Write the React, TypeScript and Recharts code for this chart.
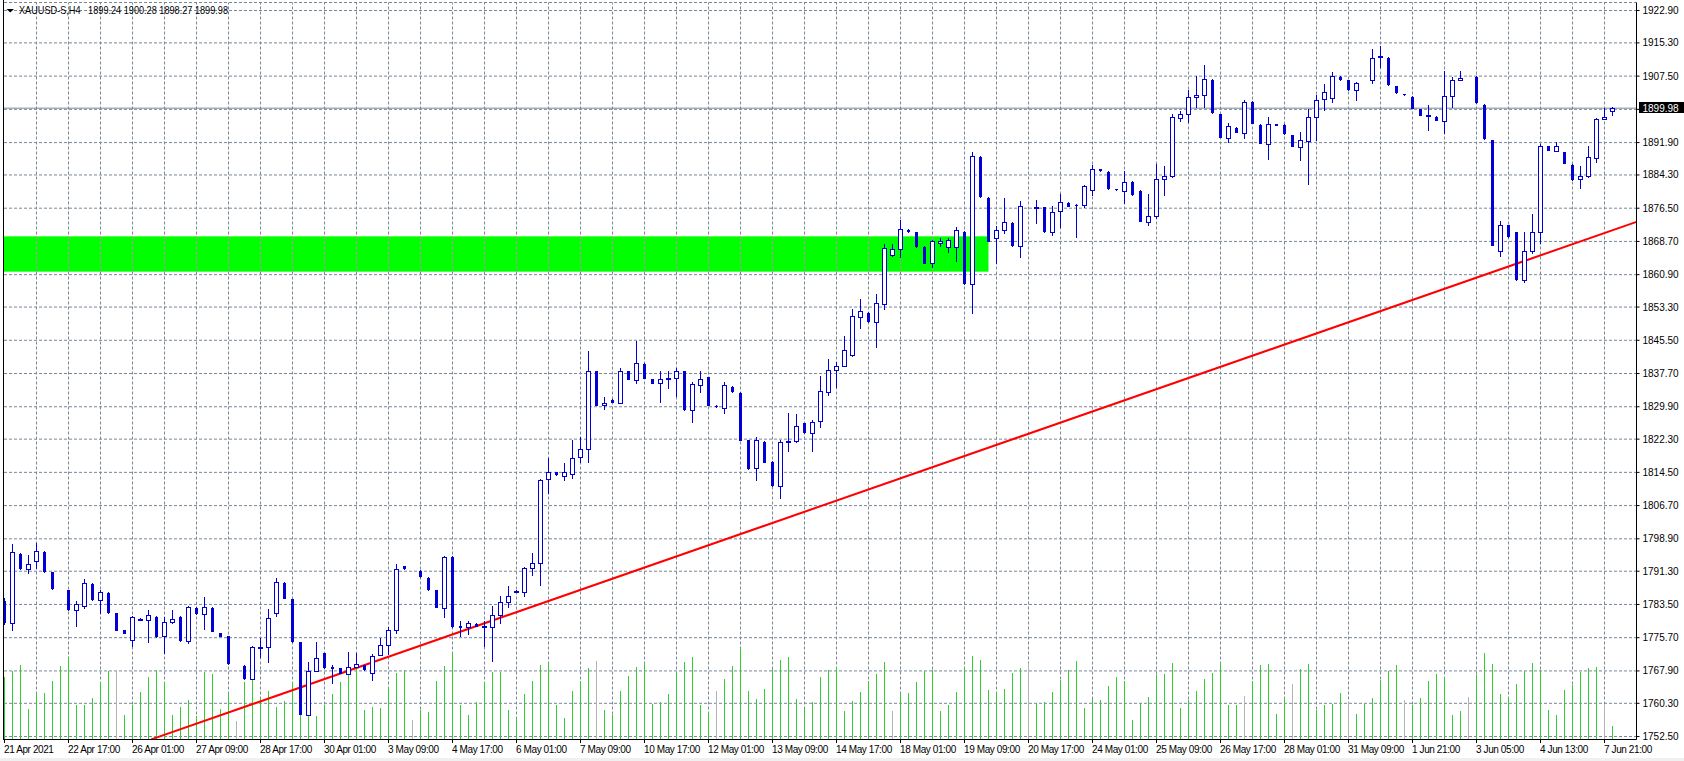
import React from 'react';
import { ComposedChart, Bar, XAxis, YAxis, CartesianGrid, ReferenceLine, ReferenceArea } from 'recharts';

// ---------------- data ----------------
const symbolName = 'XAUUSD-S,H4';

const timeLabels = [
  '21 Apr 2021', '22 Apr 17:00', '26 Apr 01:00', '27 Apr 09:00', '28 Apr 17:00', '30 Apr 01:00',
  '3 May 09:00', '4 May 17:00', '6 May 01:00', '7 May 09:00', '10 May 17:00', '12 May 01:00',
  '13 May 09:00', '14 May 17:00', '18 May 01:00', '19 May 09:00', '20 May 17:00', '24 May 01:00',
  '25 May 09:00', '26 May 17:00', '28 May 01:00', '31 May 09:00', '1 Jun 21:00', '3 Jun 05:00',
  '4 Jun 13:00', '7 Jun 21:00',
];

const priceTicks = [
  1752.5, 1760.3, 1767.9, 1775.7, 1783.5, 1791.3, 1798.9, 1806.7, 1814.5, 1822.3, 1829.9, 1837.7,
  1845.5, 1853.3, 1860.9, 1868.7, 1876.5, 1884.3, 1891.9, 1899.7, 1907.5, 1915.3, 1922.9,
];

const opens = [
  1784.4, 1779.2, 1795.4, 1791.8, 1793.7, 1795.8, 1791.0, 1787.1, 1786.8, 1782.2,
  1783.1, 1788.4, 1784.6, 1786.3, 1781.4, 1777.4, 1775.2, 1780.1, 1779.9, 1780.6,
  1776.0, 1779.4, 1780.6, 1775.0, 1782.7, 1781.3, 1782.7, 1776.8, 1776.1, 1769.5,
  1769.1, 1766.0, 1773.4, 1773.5, 1781.5, 1788.6, 1784.7, 1774.6, 1757.5, 1767.9,
  1772.1, 1768.8, 1768.5, 1767.2, 1768.8, 1769.3, 1767.4, 1771.7, 1774.0, 1777.5,
  1792.5, 1792.2, 1791.4, 1789.8, 1786.8, 1782.6, 1794.7, 1778.4, 1778.1, 1779.0,
  1778.2, 1778.1, 1781.0, 1784.0, 1786.6, 1786.4, 1792.1, 1793.2, 1812.9, 1814.5,
  1813.6, 1814.1, 1818.0, 1820.0, 1838.2, 1830.3, 1831.6, 1830.7, 1838.2, 1836.1,
  1840.0, 1836.3, 1835.4, 1836.5, 1836.7, 1838.2, 1829.2, 1835.0, 1836.8, 1830.1,
  1829.6, 1834.6, 1833.2, 1822.0, 1815.5, 1821.7, 1817.0, 1811.2, 1821.6, 1821.8,
  1826.1, 1823.8, 1826.6, 1833.4, 1838.5, 1839.5, 1842.0, 1851.0, 1852.0, 1849.7,
  1853.9, 1865.5, 1866.9, 1871.5, 1870.8, 1867.5, 1863.7, 1868.4, 1867.3, 1867.3,
  1871.0, 1858.7, 1888.6, 1879.0, 1869.5, 1871.4, 1873.1, 1867.7, 1876.8, 1876.6,
  1876.7, 1871.0, 1875.9, 1877.8, 1877.3, 1877.2, 1880.8, 1885.7, 1885.1, 1881.0,
  1880.6, 1882.7, 1880.6, 1873.3, 1874.7, 1883.4, 1884.1, 1897.7, 1898.6, 1902.6,
  1903.1, 1906.7, 1898.6, 1893.0, 1895.4, 1894.2, 1901.5, 1896.1, 1891.6, 1896.2,
  1896.1, 1893.6, 1890.8, 1892.3, 1897.9, 1902.1, 1902.4, 1907.4, 1906.5, 1904.3,
  1906.2, 1906.6, 1911.9, 1911.8, 1905.1, 1903.3, 1902.7, 1899.7, 1898.2, 1898.0,
  1897.0, 1902.9, 1906.6, 1907.2, 1907.4, 1900.8, 1892.5, 1866.5, 1872.5, 1870.8,
  1859.7, 1866.5, 1870.9, 1891.0, 1890.0, 1889.7, 1886.7, 1883.4, 1884.1, 1888.3,
  1897.5, 1899.24,
];

const highs = [
  1785.0, 1797.6, 1795.6, 1795.2, 1797.9, 1796.0, 1791.2, 1787.1, 1786.9, 1784.4,
  1789.5, 1788.5, 1787.0, 1786.4, 1781.5, 1777.5, 1780.9, 1780.3, 1782.1, 1780.7,
  1780.6, 1782.3, 1780.7, 1783.2, 1782.8, 1785.3, 1782.8, 1776.9, 1776.2, 1769.5,
  1769.2, 1773.8, 1775.6, 1782.5, 1789.6, 1788.7, 1784.8, 1774.7, 1769.9, 1774.8,
  1772.2, 1769.3, 1768.6, 1772.4, 1772.2, 1769.4, 1771.9, 1775.6, 1778.2, 1792.9,
  1792.6, 1792.2, 1791.5, 1789.9, 1786.9, 1794.9, 1794.8, 1779.7, 1779.7, 1779.1,
  1779.7, 1783.2, 1785.6, 1787.9, 1786.8, 1792.4, 1795.6, 1812.9, 1817.9, 1814.6,
  1816.6, 1822.1, 1822.9, 1843.1, 1838.3, 1832.1, 1831.7, 1839.0, 1838.3, 1845.4,
  1840.1, 1836.4, 1838.4, 1838.4, 1838.9, 1838.3, 1835.7, 1838.2, 1836.9, 1830.2,
  1835.6, 1834.7, 1833.3, 1822.1, 1822.9, 1821.8, 1817.1, 1822.1, 1828.5, 1828.3,
  1826.2, 1826.7, 1837.1, 1841.0, 1840.4, 1846.4, 1852.9, 1855.3, 1852.1, 1856.4,
  1868.2, 1868.1, 1873.8, 1871.6, 1871.0, 1867.6, 1869.0, 1869.5, 1869.5, 1872.2,
  1871.1, 1889.6, 1888.7, 1879.1, 1872.4, 1878.9, 1873.2, 1878.3, 1876.8, 1878.5,
  1876.8, 1876.9, 1879.9, 1877.9, 1877.4, 1882.0, 1886.7, 1885.8, 1885.2, 1881.1,
  1885.3, 1882.8, 1880.7, 1879.9, 1886.9, 1886.5, 1898.5, 1899.4, 1904.3, 1907.6,
  1910.0, 1906.8, 1898.7, 1896.6, 1895.5, 1902.0, 1901.6, 1896.2, 1898.0, 1896.3,
  1896.2, 1893.7, 1894.5, 1899.8, 1903.1, 1905.7, 1908.5, 1907.5, 1906.6, 1906.2,
  1906.2, 1913.8, 1914.5, 1911.9, 1905.2, 1903.4, 1902.8, 1899.8, 1900.8, 1898.1,
  1908.7, 1907.4, 1908.8, 1907.2, 1907.5, 1900.9, 1892.6, 1873.6, 1872.6, 1870.9,
  1871.0, 1875.1, 1891.6, 1891.1, 1892.1, 1889.8, 1886.8, 1886.3, 1891.0, 1897.7,
  1899.9, 1900.28,
];

const lows = [
  1779.0, 1777.5, 1791.8, 1790.8, 1792.1, 1791.1, 1787.1, 1787.1, 1782.3, 1778.4,
  1782.6, 1784.6, 1781.5, 1781.6, 1777.4, 1776.7, 1773.7, 1780.0, 1774.6, 1775.9,
  1772.2, 1779.2, 1775.0, 1774.4, 1781.3, 1777.7, 1777.2, 1776.1, 1769.6, 1769.5,
  1766.1, 1766.0, 1771.1, 1770.0, 1780.7, 1784.9, 1774.8, 1757.7, 1757.5, 1767.9,
  1768.7, 1765.0, 1767.3, 1767.2, 1768.8, 1768.2, 1765.8, 1771.7, 1771.9, 1776.7,
  1791.9, 1792.2, 1790.0, 1787.0, 1782.8, 1780.5, 1778.3, 1776.0, 1776.6, 1778.4,
  1773.8, 1770.2, 1779.2, 1782.9, 1786.5, 1785.5, 1790.4, 1788.1, 1809.6, 1814.0,
  1812.6, 1813.1, 1817.0, 1817.0, 1830.3, 1829.3, 1830.9, 1830.7, 1836.3, 1835.4,
  1836.6, 1835.4, 1831.0, 1834.3, 1832.4, 1829.2, 1826.3, 1833.3, 1830.2, 1829.9,
  1828.4, 1833.4, 1822.1, 1815.4, 1812.8, 1816.9, 1811.4, 1808.4, 1819.4, 1821.6,
  1823.8, 1819.4, 1825.1, 1832.7, 1834.5, 1839.5, 1841.8, 1848.3, 1849.9, 1843.9,
  1852.8, 1865.3, 1865.0, 1871.0, 1867.3, 1863.6, 1862.7, 1867.6, 1866.2, 1864.2,
  1858.8, 1851.9, 1879.2, 1868.7, 1863.6, 1870.6, 1867.7, 1865.0, 1876.8, 1873.0,
  1871.0, 1870.2, 1872.2, 1876.9, 1869.7, 1876.7, 1879.5, 1885.3, 1881.1, 1880.8,
  1877.7, 1879.7, 1873.4, 1872.5, 1874.2, 1879.5, 1883.8, 1897.0, 1896.7, 1900.2,
  1900.2, 1898.9, 1893.1, 1892.0, 1894.3, 1893.0, 1896.4, 1891.7, 1888.1, 1896.0,
  1894.0, 1891.0, 1887.9, 1882.2, 1892.4, 1899.6, 1901.4, 1906.7, 1904.3, 1901.8,
  1906.2, 1905.8, 1909.6, 1905.5, 1903.6, 1903.1, 1899.9, 1898.3, 1894.8, 1897.1,
  1894.1, 1900.2, 1906.6, 1907.2, 1901.3, 1892.8, 1867.8, 1865.2, 1869.8, 1859.7,
  1859.1, 1865.9, 1868.4, 1890.1, 1890.0, 1887.0, 1883.2, 1881.2, 1883.8, 1887.3,
  1897.5, 1898.27,
];

const closes = [
  1779.3, 1795.8, 1792.0, 1792.9, 1796.0, 1791.3, 1787.3, 1787.1, 1782.4, 1783.6,
  1788.6, 1784.7, 1786.5, 1781.7, 1777.5, 1776.8, 1780.6, 1780.2, 1781.1, 1776.0,
  1779.4, 1780.1, 1775.1, 1782.9, 1781.4, 1782.9, 1777.3, 1776.2, 1769.7, 1769.5,
  1766.2, 1773.5, 1773.6, 1780.3, 1788.8, 1785.0, 1774.9, 1757.8, 1767.9, 1771.0,
  1768.8, 1768.6, 1767.4, 1768.8, 1769.5, 1768.3, 1771.4, 1774.0, 1777.5, 1791.8,
  1792.0, 1792.2, 1790.1, 1787.1, 1782.9, 1794.7, 1778.4, 1778.3, 1779.2, 1778.5,
  1778.4, 1781.0, 1784.0, 1785.6, 1786.7, 1792.1, 1793.3, 1812.6, 1814.6, 1814.1,
  1814.6, 1817.9, 1820.0, 1838.4, 1830.4, 1830.8, 1831.0, 1838.4, 1836.4, 1840.2,
  1836.7, 1835.5, 1836.5, 1836.6, 1838.4, 1829.3, 1835.3, 1836.4, 1830.3, 1830.0,
  1835.0, 1833.5, 1822.2, 1815.5, 1822.0, 1817.0, 1811.5, 1821.7, 1821.8, 1825.4,
  1823.9, 1826.3, 1833.5, 1838.5, 1839.5, 1843.2, 1851.1, 1852.4, 1850.0, 1854.3,
  1867.2, 1866.9, 1871.6, 1871.1, 1867.7, 1863.7, 1868.8, 1868.9, 1869.0, 1871.4,
  1858.9, 1888.7, 1879.3, 1868.8, 1871.4, 1873.3, 1867.8, 1877.0, 1876.8, 1876.7,
  1871.1, 1875.6, 1878.0, 1877.0, 1877.2, 1881.6, 1885.7, 1885.4, 1881.2, 1880.9,
  1882.7, 1879.8, 1873.5, 1874.7, 1883.4, 1884.1, 1897.8, 1898.5, 1902.6, 1903.1,
  1906.9, 1899.0, 1893.2, 1895.8, 1894.4, 1901.5, 1896.5, 1891.8, 1896.3, 1896.1,
  1894.1, 1891.1, 1892.5, 1897.9, 1901.9, 1903.7, 1907.6, 1906.8, 1904.4, 1905.9,
  1906.2, 1911.8, 1912.3, 1905.6, 1903.7, 1903.2, 1900.0, 1898.4, 1898.3, 1897.2,
  1902.9, 1906.6, 1907.1, 1907.2, 1901.4, 1892.9, 1867.9, 1872.6, 1869.9, 1859.8,
  1866.5, 1870.9, 1891.1, 1890.2, 1891.1, 1887.1, 1883.3, 1884.1, 1888.5, 1897.5,
  1897.9, 1899.98,
];

const volumes = [
  63, 69, 75, 31, 45, 46, 59, 74, 82, 35, 35, 42, 58, 69, 70, 25, 35, 47, 63, 70,
  58, 25, 33, 40, 24, 68, 66, 31, 45, 19, 58, 64, 42, 49, 33, 39, 58, 71, 70, 24,
  34, 45, 58, 66, 73, 30, 33, 32, 53, 67, 70, 20, 30, 28, 59, 74, 88, 35, 25, 38,
  58, 68, 68, 30, 22, 45, 59, 75, 76, 35, 22, 48, 59, 72, 79, 30, 25, 49, 64, 73,
  77, 36, 38, 45, 67, 78, 83, 35, 28, 49, 61, 74, 92, 49, 41, 51, 71, 80, 83, 41,
  32, 38, 62, 70, 73, 29, 39, 47, 59, 66, 78, 29, 45, 46, 58, 69, 70, 29, 34, 47,
  72, 84, 80, 50, 47, 51, 67, 72, 77, 37, 38, 47, 60, 70, 79, 32, 41, 40, 54, 62,
  59, 20, 37, 43, 65, 66, 77, 32, 40, 49, 61, 67, 77, 34, 34, 44, 59, 75, 76, 26,
  42, 56, 71, 76, 30, 34, 36, 46, 39, 26, 36, 42, 60, 69, 75, 40, 34, 42, 59, 66,
  63, 25, 29, 43, 65, 87, 76, 45, 43, 56, 69, 77, 70, 30, 25, 50, 55, 68, 72, 73,
  35, 14,
];

const grayVolumeBars = [14, 29, 51, 74, 89, 111, 128, 155, 161, 168, 175, 183, 200];

const zoneLow = 1861.6;
const zoneHigh = 1869.9;
const zoneEndBar = 123;

const trendStart = { bar: 18.35, price: 1751.84 };
const trendEnd = { bar: 204, price: 1873.29 };

// ---------------- layout ----------------
const W = 1684;
const H = 761;
const BLUE = '#0000d4';
const GRID = '#778899';
const FONT = '"Liberation Sans", Arial, sans-serif';
const PX_PER_PRICE = 4.2608;
const PLOT_TOP = 2.5;
const PLOT_BOTTOM = 739.5;
const TOP_GRID_Y = 10.5;
const Y_MAX = 1922.9 + (TOP_GRID_Y - PLOT_TOP) / PX_PER_PRICE;
const Y_MIN = 1922.9 - (PLOT_BOTTOM - TOP_GRID_Y) / PX_PER_PRICE;
const X_MIN = -0.0625;
const X_MAX = 204;

const labelBars = timeLabels.map((_, i) => i * 8);
const gridBars: number[] = [];
for (let k = 4; k <= 200; k += 4) gridBars.push(k);

const rows = opens.map((o, k) => ({
  k,
  o,
  h: highs[k],
  l: lows[k],
  c: closes[k],
  v: volumes[k],
  gray: grayVolumeBars.includes(k),
}));

const last = rows[rows.length - 1];

// ---------------- shapes ----------------
const Candle = (props: any) => {
  const { x, y, width, height, payload } = props;
  if (!payload) return null;
  const { o, h, l, c } = payload;
  if (h === l) return null; // exact doji drawn in background colour
  const top = Math.min(y, y + height);
  const bot = Math.max(y, y + height);
  const py = (p: number) => top + ((h - p) / (h - l)) * (bot - top);
  const col = Math.floor(x + width / 2);
  const yH = Math.round(py(h));
  const yL = Math.round(py(l));
  const bTop = Math.round(py(Math.max(o, c)));
  const bBot = Math.round(py(Math.min(o, c)));
  const bull = c > o;
  return (
    <g shapeRendering="crispEdges">
      <rect x={col} y={yH} width={1} height={Math.max(1, yL - yH + 1)} fill={BLUE} />
      {bull ? (
        <rect x={col - 1.5} y={bTop + 0.5} width={4} height={Math.max(1, bBot - bTop)} fill="#ffffff" stroke={BLUE} strokeWidth={1} />
      ) : (
        <rect x={col - 1} y={bTop} width={3} height={Math.max(1, bBot - bTop + 1)} fill={BLUE} />
      )}
    </g>
  );
};

const VolumeLine = (props: any) => {
  const { x, y, width, height, payload } = props;
  if (!payload || !height) return null;
  const col = Math.floor(x + width / 2);
  const top = Math.round(Math.min(y, y + height));
  const bot = Math.round(Math.max(y, y + height));
  return (
    <rect x={col} y={top} width={1} height={Math.max(1, bot - top)} fill={payload.gray ? '#b4b4b4' : '#32cd32'} shapeRendering="crispEdges" />
  );
};

const Zone = (props: any) => {
  const { x, y, width, height } = props;
  const unit = width / (zoneEndBar - X_MIN);
  const lines = gridBars.filter((k) => k < zoneEndBar).map((k) => Math.floor(x + (k - X_MIN) * unit) + 0.5);
  return (
    <g>
      <rect x={x} y={y} width={width} height={height} fill="#00ff00" />
      {lines.map((lx) => (
        <line key={lx} x1={lx} x2={lx} y1={y} y2={y + height} stroke="#e07ab8" strokeDasharray="3 2" />
      ))}
    </g>
  );
};

const TimeTick = (props: any) => {
  const { x, y, payload } = props;
  const idx = Math.round(payload.value / 8);
  const col = Math.floor(x);
  return (
    <g>
      <rect x={col} y={y + 0.5} width={1} height={3} fill="#000" />
      <text x={x - 0.5} y={y + 13} fontSize={10} fontFamily={FONT} letterSpacing={-0.4} textAnchor="start" fill="#000">
        {timeLabels[idx]}
      </text>
    </g>
  );
};

const PriceTick = (props: any) => {
  const { x, y, payload } = props;
  if (Math.abs(payload.value - last.c) < 1) return null;
  return (
    <text x={x} y={y + 3.5} fontSize={10} fontFamily={FONT} textAnchor="start" fill="#000">
      {payload.value.toFixed(2)}
    </text>
  );
};

const PriceBox = (props: any) => {
  const vb = props.viewBox || {};
  const right = (vb.x ?? 0) + (vb.width ?? 0);
  const cy = Math.round(vb.y ?? 0);
  return (
    <g>
      <rect x={right + 2.5} y={cy - 6} width={46} height={11} fill="#000" />
      <text x={right + 6} y={cy + 3.5} fontSize={10} fontFamily={FONT} fill="#ffffff">
        {last.c.toFixed(2)}
      </text>
    </g>
  );
};

export default function App() {
  const titleText = [symbolName, ' ', last.o.toFixed(2), last.h.toFixed(2), last.l.toFixed(2), last.c.toFixed(2)].join(' ');
  return (
    <div style={{ position: 'absolute', left: 0, top: 0, width: W, height: H, background: '#ffffff', overflow: 'hidden' }}>
      <ComposedChart width={W} height={H} data={rows} margin={{ top: PLOT_TOP, right: 0, bottom: 0, left: 4 }}>
        <CartesianGrid vertical={false} stroke={GRID} strokeDasharray="3 2" />
        <XAxis
          dataKey="k"
          type="number"
          domain={[X_MIN, X_MAX]}
          allowDataOverflow
          ticks={labelBars}
          interval={0}
          height={21.5}
          tickSize={0}
          tickMargin={0}
          tickLine={false}
          axisLine={{ stroke: '#000' }}
          tick={<TimeTick />}
        />
        <XAxis xAxisId="vx" dataKey="k" type="number" domain={[X_MIN, X_MAX]} allowDataOverflow hide />
        <YAxis
          orientation="right"
          type="number"
          domain={[Y_MIN, Y_MAX]}
          allowDataOverflow
          ticks={priceTicks}
          interval={0}
          width={47.5}
          tickSize={3}
          tickMargin={3}
          axisLine={{ stroke: '#000' }}
          tickLine={{ stroke: '#000' }}
          tick={<PriceTick />}
        />
        <YAxis yAxisId="vol" type="number" domain={[0, 737]} allowDataOverflow hide />
        {gridBars.map((k) => (
          <ReferenceLine key={'g' + k} x={k} stroke={GRID} strokeDasharray="3 2" zIndex={-100} />
        ))}
        <ReferenceArea x1={X_MIN} x2={zoneEndBar} y1={zoneLow} y2={zoneHigh} shape={<Zone />} ifOverflow="visible" zIndex={-50} />
        <Bar xAxisId="vx" yAxisId="vol" dataKey="v" barSize={1} shape={<VolumeLine />} isAnimationActive={false} zIndex={100} />
        <ReferenceLine
          segment={[
            { x: trendStart.bar, y: trendStart.price },
            { x: trendEnd.bar, y: trendEnd.price },
          ]}
          stroke="#ff0000"
          strokeWidth={2}
          ifOverflow="visible"
          zIndex={150}
        />
        <ReferenceLine y={last.c} stroke={GRID} label={<PriceBox />} zIndex={150} />
        <Bar dataKey={(d: any) => [d.l, d.h]} barSize={5} shape={<Candle />} isAnimationActive={false} zIndex={300} />
      </ComposedChart>
      <div style={{ position: 'absolute', left: 3, top: 0, width: 1, height: 740, background: '#000' }} />
      <div style={{ position: 'absolute', left: 0, top: 758, width: W, height: 3, background: '#f0f0f0' }} />
      <svg style={{ position: 'absolute', left: 0, top: 0 }} width={420} height={20}>
        <path d="M6.5 9 H14 L10.25 12.5 Z" fill="#000" />
        <text x={19} y={14} fontSize={10.5} fontFamily={FONT} textLength={209} lengthAdjust="spacingAndGlyphs" fill="#000" style={{ whiteSpace: 'pre' }}>
          {titleText}
        </text>
      </svg>
    </div>
  );
}
